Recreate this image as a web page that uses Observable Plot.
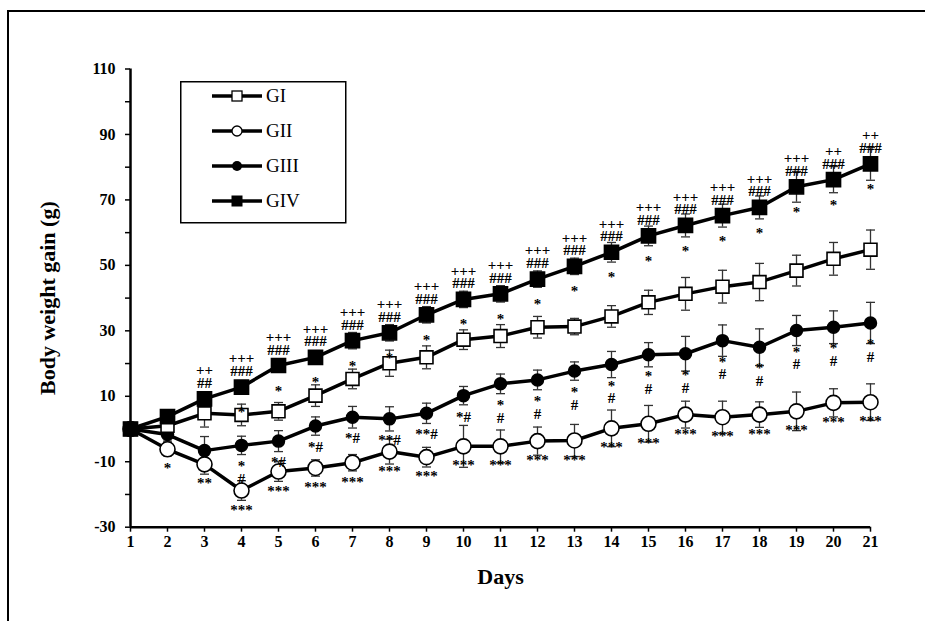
<!DOCTYPE html>
<html><head><meta charset="utf-8">
<script src="https://cdn.jsdelivr.net/npm/d3@7"></script>
<script src="https://cdn.jsdelivr.net/npm/@observablehq/plot@0.6"></script>
<style>
html,body{margin:0;padding:0;background:#fff;}
#wrap{position:relative;width:925px;height:621px;overflow:hidden;background:#fff;}
#frame{position:absolute;left:7px;top:10px;width:940px;height:640px;border-top:2px solid #000;border-left:2px solid #000;pointer-events:none;}
#legend{position:absolute;left:180px;top:81px;}
</style></head><body>
<div id="wrap"><div id="chart"></div><div id="frame"></div><div id="legend"></div></div>
<script>
const days = [1,2,3,4,5,6,7,8,9,10,11,12,13,14,15,16,17,18,19,20,21];
const groups = ["GI","GII","GIII","GIV"];

const gI    = [0, 1, 4.8, 4.3, 5.4, 10.2, 15.3, 20.1, 21.9, 27.3, 28.4, 31.1, 31.3, 34.4, 38.7, 41.3, 43.5, 44.9, 48.4, 52.0, 54.8];
const gIErr = [0, 2, 4.2, 3.3, 2.7, 3.3, 3.0, 4.0, 3.5, 3.0, 3.5, 3.3, 2.5, 3.3, 3.7, 5.0, 5.0, 5.7, 4.7, 5.0, 6.0];

const gII    = [0, -6.2, -10.8, -18.8, -13.0, -11.9, -10.3, -6.9, -8.6, -5.3, -5.3, -3.7, -3.5, 0.2, 1.6, 4.4, 3.6, 4.4, 5.4, 8.0, 8.2];
const gIIErr = [0, 2, 3, 3, 3, 2.5, 2.5, 3.8, 3.0, 6.4, 5.0, 4.3, 4.9, 5.6, 5.6, 4.1, 4.9, 3.9, 5.9, 4.3, 5.6];

const gIII    = [0, -1.7, -6.6, -5.0, -3.7, 0.9, 3.6, 3.1, 4.8, 10.2, 13.8, 15.0, 17.7, 19.7, 22.7, 23.0, 27.0, 25.0, 30.1, 31.1, 32.4];
const gIIIErr = [0, 2, 4.3, 2.8, 3.2, 2.8, 3.3, 3.7, 3.1, 2.8, 3.0, 3.0, 2.8, 4.0, 3.7, 5.3, 4.8, 5.6, 4.6, 5.0, 6.3];

const gIV    = [0, 3.8, 9.2, 12.8, 19.4, 21.9, 27.0, 29.4, 34.9, 39.6, 41.3, 45.8, 49.7, 54.0, 59.0, 62.2, 65.2, 67.7, 74.0, 76.2, 81.0];
const gIVErr = [0, 1.5, 2, 2, 2, 2, 2.5, 2.5, 2.5, 2.5, 2.5, 2.5, 2.5, 3, 3, 3.5, 3.5, 3.5, 4.7, 4, 5];

// significance marks
const gIVAbove = ["", "", "++\n##",
  "+++\n###","+++\n###","+++\n###","+++\n###","+++\n###","+++\n###","+++\n###","+++\n###",
  "+++\n###","+++\n###","+++\n###","+++\n###","+++\n###","+++\n###","+++\n###","+++\n###",
  "++\n###", "++\n###"];
const gIVBelow = ["", "", "", "*","*","*","*","*","*","*","*","*","*","*","*","*","*","*","*","*","*"];
const gIIIBelow = ["", "", "", "*\n#", "*#", "*#", "*#", "**#", "**#", "*#",
  "*\n#","*\n#","*\n#","*\n#","*\n#","*\n#","*\n#","*\n#","*\n#","*\n#","*\n#"];
const gIIBelow = ["", "*", "**", "***","***","***","***","***","***","***","***","***","***","***","***","***","***","***","***","***","***"];
const noMarks = days.map(() => "");

const yMajorTicks = [-30, -10, 10, 30, 50, 70, 90, 110];
const yMinorTicks = [-20, 0, 20, 40, 60, 80, 100];
const xDomain = [1, 21];
const yDomain = [-30, 110];
const xLabel = "Days";
const yLabel = "Body weight gain (g)";

const values = [gI, gII, gIII, gIV];
const errors = [gIErr, gIIErr, gIIIErr, gIVErr];
const above = [noMarks, noMarks, noMarks, gIVAbove];
const below = [noMarks, gIIBelow, gIIIBelow, gIVBelow];

const rows = groups.flatMap((g, gi) => days.map((d, i) => ({
  group: g, day: d, v: values[gi][i], e: errors[gi][i], above: above[gi][i], below: below[gi][i]
})));
const errRows = rows.filter(r => r.e > 0);
const caps = errRows.flatMap(r => [{day: r.day, y: r.v + r.e}, {day: r.day, y: r.v - r.e}]);
const of = g => rows.filter(d => d.group === g);

const capSymbol = {draw(ctx, size) { const r = Math.sqrt(size / Math.PI); ctx.moveTo(-r, 0); ctx.lineTo(r, 0); }};
const serif = "'Liberation Serif', 'Times New Roman', serif";
const annot = {x: "day", y: "v", text: "below", lineAnchor: "top", fontSize: 15, lineHeight: 0.85};

const chart = Plot.plot({
  width: 925, height: 621,
  marginLeft: 130, marginRight: 55, marginTop: 68.5, marginBottom: 94.3,
  x: {domain: xDomain},
  y: {domain: yDomain},
  style: {fontFamily: serif, fontWeight: "bold", fontSize: "16px", color: "#000", background: "transparent"},
  marks: [
    Plot.axisX({ticks: days, tickSize: 5, tickPadding: 3, tickFormat: d => String(d), label: null, strokeWidth: 1.5}),
    Plot.axisY({ticks: [...yMajorTicks, ...yMinorTicks], tickSize: 5, tickPadding: 10,
      tickFormat: d => yMajorTicks.includes(d) ? String(d) : "", label: null, strokeWidth: 1.5}),
    Plot.ruleX([xDomain[0]], {y1: yDomain[0], y2: yDomain[1], strokeWidth: 2.5}),
    Plot.ruleY([yDomain[0]], {x1: xDomain[0], x2: xDomain[1], strokeWidth: 2.5}),
    Plot.text([yLabel], {frameAnchor: "left", rotate: -90, dx: -83, fontSize: 22, lineAnchor: "middle", textAnchor: "middle"}),
    Plot.text([xLabel], {frameAnchor: "bottom", dy: 50, fontSize: 22, lineAnchor: "middle", textAnchor: "middle"}),
    Plot.ruleX(errRows, {x: "day", y1: d => d.v - d.e, y2: d => d.v + d.e, stroke: "#333", strokeWidth: 1.3}),
    Plot.dot(caps, {x: "day", y: "y", symbol: capSymbol, r: 4.5, fill: "none", stroke: "#333", strokeWidth: 1.3}),
    Plot.line(rows, {x: "day", y: "v", z: "group", stroke: "#000", strokeWidth: 3.5}),
    Plot.dot(of("GII"), {x: "day", y: "v", symbol: "circle", r: 7.5, fill: "#fff", stroke: "#000", strokeWidth: 1.6}),
    Plot.dot(of("GIII"), {x: "day", y: "v", symbol: "circle", r: 6, fill: "#000", stroke: "#000"}),
    Plot.dot(of("GI"), {x: "day", y: "v", symbol: "square", r: 7.3, fill: "#fff", stroke: "#000", strokeWidth: 1.6}),
    Plot.dot(of("GIV"), {x: "day", y: "v", symbol: "square", r: 8, fill: "#000", stroke: "#000"}),
    Plot.text(of("GIV").filter(d => d.above), {x: "day", y: "v", text: "above", lineAnchor: "bottom", dy: -11, fontSize: 15, lineHeight: 0.85}),
    Plot.text(of("GIV").filter(d => d.below), {...annot, dy: 21}),
    Plot.text(of("GIII").filter(d => d.below), {...annot, dy: 17}),
    Plot.text(of("GII").filter(d => d.below), {...annot, dy: 15})
  ]
});
document.getElementById("chart").appendChild(chart);

// legend
const legW = 165, legH = 141;
const legRows = [15, 50, 85, 120];
const svg = d3.select("#legend").append("svg").attr("width", legW + 2).attr("height", legH + 2);
svg.append("rect").attr("x", 0.75).attr("y", 0.75).attr("width", legW).attr("height", legH)
  .attr("fill", "#fff").attr("stroke", "#000").attr("stroke-width", 1.5);
groups.forEach((g, i) => {
  const y = legRows[i];
  const item = svg.append("g").attr("transform", `translate(0,${y})`);
  item.append("line").attr("x1", 32).attr("x2", 82).attr("stroke", "#000").attr("stroke-width", 3.5);
  if (g === "GI") item.append("rect").attr("x", 52).attr("y", -5).attr("width", 10).attr("height", 10).attr("fill", "#fff").attr("stroke", "#000").attr("stroke-width", 1.3);
  if (g === "GII") item.append("circle").attr("cx", 57).attr("r", 5).attr("fill", "#fff").attr("stroke", "#000").attr("stroke-width", 1.3);
  if (g === "GIII") item.append("circle").attr("cx", 57).attr("r", 5).attr("fill", "#000");
  if (g === "GIV") item.append("rect").attr("x", 51.5).attr("y", -5.5).attr("width", 11).attr("height", 11).attr("fill", "#000");
  item.append("text").attr("x", 86).attr("y", 0).attr("dy", "0.34em").attr("font-family", serif)
    .attr("font-size", 19).text(g);
});
</script>
</body></html>
